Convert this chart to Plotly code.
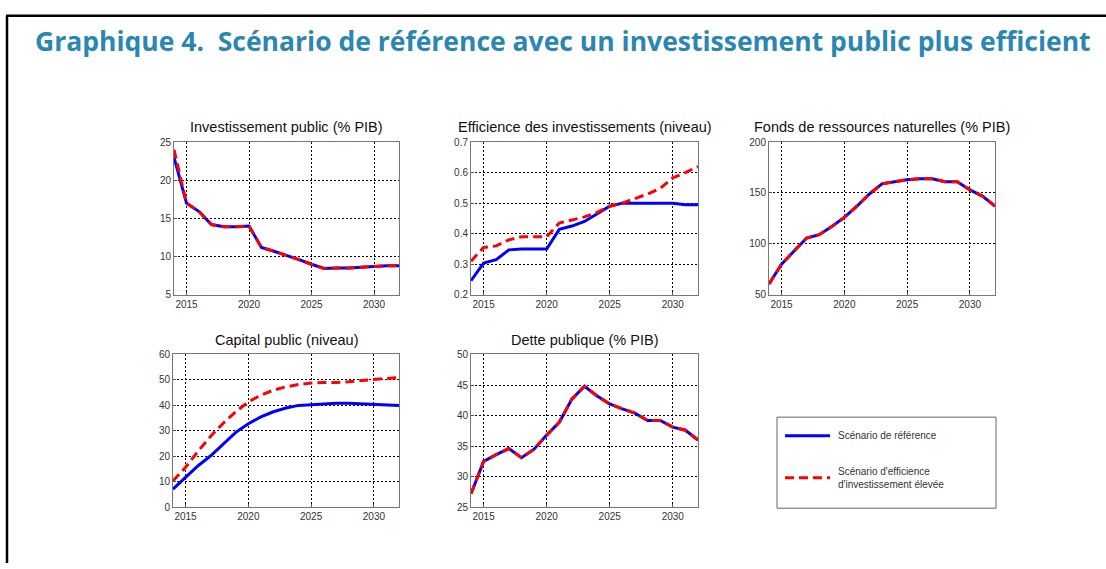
import plotly.graph_objects as go

# years 2014..2032
years = list(range(2014, 2033))

# Investissement public (% PIB)
inv_ref = [23.0, 17.0, 15.9, 14.2, 13.9, 13.9, 14.0, 11.2, 10.7, 10.2, 9.6, 9.0, 8.45, 8.5, 8.5, 8.6, 8.7, 8.8, 8.8]
inv_eff = [24.0, 17.0, 15.9, 14.2, 13.9, 13.9, 14.0, 11.2, 10.7, 10.2, 9.6, 9.0, 8.45, 8.5, 8.5, 8.6, 8.7, 8.8, 8.8]

# Efficience des investissements (niveau)
eff_ref = [0.246, 0.304, 0.315, 0.347, 0.35, 0.35, 0.35, 0.414, 0.425, 0.44, 0.465, 0.49, 0.50, 0.50, 0.50, 0.50, 0.50, 0.495, 0.495]
eff_eff = [0.31, 0.355, 0.36, 0.38, 0.39, 0.39, 0.39, 0.435, 0.445, 0.455, 0.47, 0.49, 0.50, 0.515, 0.53, 0.548, 0.583, 0.60, 0.62]

# Fonds de ressources naturelles (% PIB)
fonds_ref = [60.6, 80, 93, 105.7, 109, 117, 126, 137, 149, 159, 161, 163, 164, 164, 161, 161, 153, 147, 137]
fonds_eff = [60.6, 80, 93, 105.7, 109, 117, 126, 137, 149, 159, 161, 163, 164, 164, 161, 161, 153, 147, 137]

# Capital public (niveau)
cap_ref = [7.1, 11.8, 16.3, 20.2, 25.0, 29.4, 32.8, 35.5, 37.5, 39.0, 40.0, 40.3, 40.5, 40.8, 40.8, 40.6, 40.5, 40.1, 40.0]
cap_eff = [10.3, 15.7, 22.0, 27.9, 33.0, 37.5, 41.4, 44.0, 46.0, 47.3, 48.2, 48.8, 49.0, 49.0, 49.3, 49.7, 50.3, 50.6, 51.0]

# Dette publique (% PIB)
dette_ref = [27.2, 32.5, 33.6, 34.6, 33.1, 34.5, 36.8, 38.9, 42.7, 44.8, 43.2, 41.9, 41.1, 40.4, 39.2, 39.2, 38.1, 37.6, 36.0]
dette_eff = [27.2, 32.5, 33.6, 34.6, 33.1, 34.5, 36.8, 38.9, 42.7, 44.8, 43.2, 41.9, 41.1, 40.4, 39.2, 39.2, 38.1, 37.6, 36.0]

legend_names = ["Scénario de référence", "Scénario d'efficience<br>d'investissement élevée"]

W, H = 1106, 569
font = "Liberation Sans, Arial, sans-serif"

# panels: (title, ref, eff, y range, dtick, left px, right px, top px, bottom px)
panels = [
    ("Investissement public (% PIB)", inv_ref, inv_eff, [5, 25], 5, 174, 399, 139, 295),
    ("Efficience des investissements (niveau)", eff_ref, eff_eff, [0.2, 0.7], 0.1, 471, 698, 139, 295),
    ("Fonds de ressources naturelles (% PIB)", fonds_ref, fonds_eff, [50, 200], 50, 769, 995, 139, 295),
    ("Capital public (niveau)", cap_ref, cap_eff, [0, 60], 10, 173, 399, 356, 512),
    ("Dette publique (% PIB)", dette_ref, dette_eff, [25, 50], 5, 471, 698, 356, 512),
]

def px(x, y):
    return x / W, 1 - y / H

fig = go.Figure()
annotations = []
for i, (title, ref, eff, yr, dt, l, r, t, b) in enumerate(panels):
    n = "" if i == 0 else str(i + 1)
    fig.add_trace(go.Scatter(x=years, y=ref, mode="lines", xaxis="x" + n, yaxis="y" + n,
                             line=dict(color="#0000ff", width=3), showlegend=False))
    fig.add_trace(go.Scatter(x=years, y=eff, mode="lines", xaxis="x" + n, yaxis="y" + n,
                             line=dict(color="#ff0000", width=3, dash="9px,5px"), showlegend=False))
    ax = dict(showline=True, mirror=True, linecolor="#777777", linewidth=1,
              showgrid=True, gridcolor="#000000", gridwidth=1, griddash="2px,2px",
              zeroline=False, ticks="inside", ticklen=3, tickcolor="#555555",
              tickfont=dict(family=font, size=10, color="#333333"))
    fig.layout["xaxis" + n] = dict(ax, domain=[l / W, r / W], range=[2014, 2032],
                                   tickvals=[2015, 2020, 2025, 2030], anchor="y" + n)
    fig.layout["yaxis" + n] = dict(ax, domain=[1 - b / H, 1 - t / H], range=yr, dtick=dt,
                                   anchor="x" + n)
    annotations.append(dict(text=title, x=(l + r) / 2 / W, y=1 - (t - 5) / H, xref="paper", yref="paper",
                            xanchor="center", yanchor="bottom", showarrow=False,
                            font=dict(family=font, size=14.5, color="#111111")))

annotations.append(dict(text="Graphique 4.\u00a0 Scénario de référence avec un investissement public plus efficient",
                        x=563 / W, y=1 - 36 / H, xref="paper", yref="paper", xanchor="center", yanchor="middle",
                        showarrow=False, font=dict(family="Open Sans, sans-serif", size=26.5, color="#2a86b3",
                                                   weight="bold")))

# legend text
for name, yy in zip(legend_names, [439, 482]):
    lx, ly = px(836, yy)
    annotations.append(dict(text=name, x=lx, y=ly, xref="paper", yref="paper", xanchor="left",
                            yanchor="middle", align="left", showarrow=False,
                            font=dict(family=font, size=10, color="#333333")))

shapes = [
    # frame of the figure
    dict(type="line", xref="paper", yref="paper", x0=6 / W, x1=1, y0=1 - 10 / H, y1=1 - 10 / H,
         line=dict(color="black", width=2.5)),
    dict(type="line", xref="paper", yref="paper", x0=7 / W, x1=7 / W, y0=0, y1=1 - 10 / H,
         line=dict(color="black", width=2.5)),
    # legend box
    dict(type="rect", xref="paper", yref="paper", x0=777 / W, x1=996 / W, y0=1 - 513 / H, y1=1 - 420 / H,
         line=dict(color="#666666", width=1), fillcolor="white", layer="below"),
    # legend samples
    dict(type="line", xref="paper", yref="paper", x0=785 / W, x1=830 / W, y0=1 - 439 / H, y1=1 - 439 / H,
         line=dict(color="#0000ff", width=3)),
    dict(type="line", xref="paper", yref="paper", x0=785 / W, x1=830 / W, y0=1 - 482 / H, y1=1 - 482 / H,
         line=dict(color="#ff0000", width=3, dash="9px,5px")),
]

fig.update_layout(
    width=W, height=H, margin=dict(l=0, r=0, t=0, b=0),
    paper_bgcolor="white", plot_bgcolor="white",
    annotations=annotations, shapes=shapes, showlegend=False,
)

fig.write_html("out.html", config={"displayModeBar": False},
               post_script="document.body.style.margin='0';")
